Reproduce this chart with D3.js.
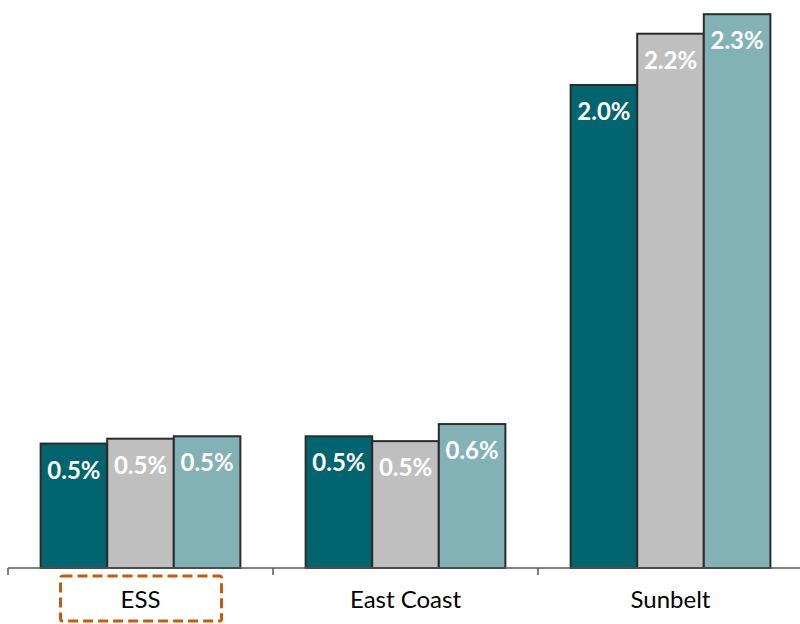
<!DOCTYPE html>
<html>
<head>
<meta charset="utf-8">
<script src="https://cdn.jsdelivr.net/npm/d3@7"></script>
<style>
  html, body { margin: 0; padding: 0; background: #fff; }
  svg { display: block; font-family: Lato, "Open Sans", sans-serif; }
</style>
</head>
<body>
<svg id="chart" width="800" height="624"></svg>
<script>
// Regions along the x axis
const categories = ["ESS", "East Coast", "Sunbelt"];
// Three series per region (annual growth, %)
const seriesKeys = ["s1", "s2", "s3"];
const seriesColors = ["#02646f", "#bfbfbf", "#83b2b6"];
const valuesS1 = [0.51, 0.54, 1.98];
const valuesS2 = [0.53, 0.52, 2.19];
const valuesS3 = [0.54, 0.59, 2.27];
const highlighted = "ESS";

const seriesValues = [valuesS1, valuesS2, valuesS3];
const rows = categories.map((c, i) => ({
  category: c,
  bars: seriesKeys.map((k, j) => ({ key: k, color: seriesColors[j], value: seriesValues[j][i] }))
}));

const svg = d3.select("#chart");
const baseY = 568;

const x0 = d3.scaleBand().domain(categories).range([8, 803]).paddingInner(0).paddingOuter(0);
const x1 = d3.scaleBand().domain(seriesKeys).range([0, x0.bandwidth()]).paddingInner(0).paddingOuter(0.49);
const y = d3.scaleLinear().domain([0, 2.32]).range([baseY, 2]);

const fmt = d => d3.format(".1f")(d) + "%";

const groups = svg.selectAll("g.group")
  .data(rows)
  .join("g")
  .attr("class", "group")
  .attr("transform", d => `translate(${x0(d.category)},0)`);

groups.selectAll("rect")
  .data(d => d.bars)
  .join("rect")
  .attr("x", d => x1(d.key))
  .attr("y", d => y(d.value))
  .attr("width", x1.bandwidth())
  .attr("height", d => baseY - y(d.value))
  .attr("fill", d => d.color)
  .attr("stroke", "#2b2b2b")
  .attr("stroke-width", 2);

groups.selectAll("text.val")
  .data(d => d.bars)
  .join("text")
  .attr("class", "val")
  .attr("x", d => x1(d.key) + x1.bandwidth() / 2)
  .attr("y", d => y(d.value) + 35)
  .attr("text-anchor", "middle")
  .attr("fill", "#ffffff")
  .attr("font-size", 24)
  .attr("font-weight", 700)
  .text(d => fmt(d.value));

// Category axis along the baseline
const axis = d3.axisBottom(x0).tickSize(0).tickPadding(0).tickFormat("");
const axisG = svg.append("g").attr("transform", `translate(0,${baseY})`).call(axis);
axisG.select(".domain").remove();
axisG.append("line")
  .attr("x1", 8).attr("x2", 800).attr("y1", 0).attr("y2", 0)
  .attr("stroke", "#595959").attr("stroke-width", 1.5);
const boundaries = categories.map(c => x0(c)).concat([x0(categories[categories.length - 1]) + x0.bandwidth()]);
axisG.selectAll("line.tick-mark")
  .data(boundaries)
  .join("line")
  .attr("class", "tick-mark")
  .attr("x1", d => d).attr("x2", d => d)
  .attr("y1", 0).attr("y2", 7)
  .attr("stroke", "#595959").attr("stroke-width", 1.5);

svg.selectAll("text.cat")
  .data(categories)
  .join("text")
  .attr("class", "cat")
  .attr("x", d => x0(d) + x0.bandwidth() / 2)
  .attr("y", 608)
  .attr("text-anchor", "middle")
  .attr("fill", "#000")
  .attr("font-size", 24)
  .text(d => d);

// Dashed box around the highlighted region label
const hx = x0(highlighted) + x0.bandwidth() / 2;
svg.append("rect")
  .attr("x", hx - 80)
  .attr("y", 576)
  .attr("width", 161)
  .attr("height", 45)
  .attr("rx", 2)
  .attr("fill", "none")
  .attr("stroke", "#c55a11")
  .attr("stroke-width", 3)
  .attr("stroke-dasharray", "10,5");
</script>
</body>
</html>
